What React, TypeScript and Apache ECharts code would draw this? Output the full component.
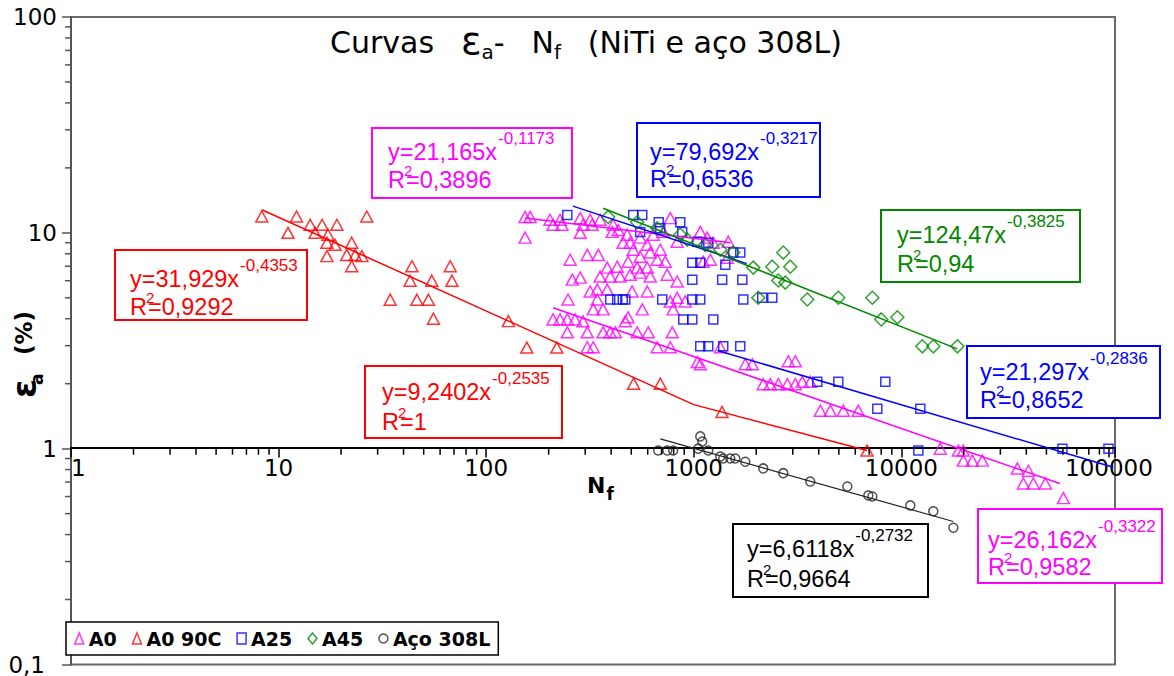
import React, { useEffect, useRef } from 'react';
import * as echarts from 'echarts';

// ---------------- data ----------------
const A0: number[][] = [
  [154, 11.85], [163, 11.85], [203, 11.5], [227, 11.5], [210, 10.9], [232, 10.9], [284, 11.7], [317, 11.5],
  [293, 10.9], [324, 10.9], [354, 11.5], [409, 10.9], [405, 10.1], [433, 10.3], [284, 10], [154, 9.5],
  [478, 9.8], [457, 9.0], [494, 9.0], [552, 9.5], [597, 8.8], [638, 9.8], [771, 11.7], [713, 10.1],
  [832, 9.1], [1075, 10.1], [1161, 9.5], [1242, 9.0], [1466, 9.1], [254, 7.5], [307, 7.9], [347, 7.9],
  [511, 8.35], [552, 7.75], [617, 8.1], [667, 7.5], [690, 8.35], [729, 7.35], [383, 6.9], [428, 6.97],
  [483, 7.35], [534, 6.9], [597, 6.9], [1111, 7.35], [1202, 7.5], [1450, 7.67], [260, 6.07], [284, 6.2],
  [354, 6.27], [396, 6.27], [442, 6.27], [494, 6.4], [552, 6.54], [617, 6.27], [745, 6.4], [832, 5.95],
  [317, 5.35], [343, 5.46], [383, 5.46], [505, 5.35], [597, 5.35], [248, 4.91], [343, 4.91], [771, 4.81],
  [832, 5.0], [910, 4.81], [328, 4.42], [366, 4.42], [565, 4.42], [796, 4.42], [483, 4.06], [210, 3.97],
  [227, 3.97], [246, 3.97], [268, 3.97], [293, 3.89], [468, 3.89], [246, 3.46], [307, 3.46], [366, 3.46],
  [396, 3.46], [419, 3.46], [534, 3.46], [604, 3.46], [788, 3.46], [307, 2.95], [328, 2.95], [667, 2.95],
  [771, 2.95], [1343, 2.95], [1040, 2.52], [1075, 2.46], [1771, 2.46], [1915, 2.46], [2853, 2.54], [3084, 2.54],
  [2162, 1.99], [2338, 1.99], [2555, 1.99], [2824, 1.99], [3084, 1.99], [3334, 2.04], [3641, 2.04], [4072, 1.5],
  [4549, 1.5], [5253, 1.5], [6202, 1.5], [15400, 1.0], [18830, 0.98], [19890, 0.98], [19890, 0.88], [21980, 0.88],
  [24550, 0.88], [36240, 0.81], [40920, 0.79], [38730, 0.69], [43270, 0.69], [49430, 0.69], [60380, 0.59],
];

const A0_90C: number[][] = [
  [8.3, 11.9], [12.2, 11.9], [11.1, 10], [14.2, 10.9], [16.2, 10.9], [19.1, 10.9], [26.6, 11.9], [15.0, 10],
  [17.3, 9.8], [17.1, 9.0], [18.7, 8.8], [22.5, 9.0], [21.3, 7.9], [23.4, 7.9], [25.2, 7.8], [17.1, 7.8],
  [22.5, 7.0], [43.9, 7.0], [67.1, 7.0], [43.0, 6.0], [54.7, 6.0], [68.4, 6.0], [34.5, 4.9], [46.4, 4.9],
  [52.7, 4.9], [55.7, 4.0], [128, 3.9], [157, 2.94], [219, 2.94], [513, 2.0], [690, 2.0], [1368, 1.48],
  [6839, 0.98],
];

const A25: number[][] = [
  [246, 12.1], [511, 12.1], [565, 12.1], [678, 11.2], [861, 11.2], [552, 10.1], [690, 10.5], [880, 10.1],
  [1040, 9.1], [1175, 9.0], [1550, 8.1], [1675, 8.1], [984, 7.27], [1075, 7.27], [1419, 7.12], [984, 6.07],
  [1371, 6.07], [1714, 6.07], [396, 4.91], [428, 4.91], [455, 4.91], [468, 4.91], [705, 4.91], [984, 4.91],
  [1075, 4.91], [1733, 4.91], [2138, 5.0], [2390, 5.0], [890, 3.97], [984, 3.97], [1242, 3.97], [1075, 2.98],
  [1175, 2.98], [1387, 2.98], [1675, 2.98], [3937, 2.04], [4970, 2.04], [8370, 2.04], [7660, 1.53], [12350, 1.53],
  [12080, 0.98], [59700, 1.0], [99500, 1.0],
];

const A45: number[][] = [
  [387, 11.85], [534, 11.2], [667, 10.5], [861, 9.8], [930, 9.3], [1136, 8.8], [1343, 8.35], [1550, 8.1],
  [2700, 8.1], [1935, 6.9], [2390, 6.97], [2917, 6.97], [2555, 6.01], [2761, 5.88], [2046, 5.0], [3524, 4.91],
  [4970, 5.0], [7250, 5.0], [8010, 3.97], [9570, 4.06], [12620, 2.98], [14260, 2.98], [18620, 2.98],
];

const ACO_308L: number[][] = [
  [674, 0.98], [745, 0.98], [796, 0.98], [1075, 1.14], [1099, 1.08], [1051, 1.0], [1175, 0.98], [1343, 0.92],
  [1387, 0.9], [1500, 0.9], [1585, 0.9], [1771, 0.87], [2162, 0.81], [2700, 0.77], [3641, 0.705], [5495, 0.668],
  [6935, 0.607], [7250, 0.6], [11050, 0.546], [14260, 0.513], [17810, 0.43],
];

// trend lines (end points)
const FIT_A0_LOW = [[154, 11.7], [1500, 9.0]];
const FIT_A0 = [[210, 4.5], [58000, 0.69]];
const FIT_A0_90C_1 = [[8.3, 12.8], [1000, 1.6]];
const FIT_A0_90C_2 = [[1000, 1.6], [6839, 0.98]];
const FIT_A25_HIGH = [[262, 13.3], [1800, 7.2]];
const FIT_A25 = [[1300, 2.85], [105000, 0.82]];
const FIT_A45 = [[366, 13.0], [18600, 2.9]];
const FIT_ACO = [[690, 1.11], [17800, 0.46]];

// axes
const X_MIN = 1;
const X_MAX = 107000;
const Y_MIN = 0.1;
const Y_MAX = 100;
const X_MINOR = [
  2, 3, 4, 5, 6, 7, 8, 9, 20, 30, 40, 50, 60, 70, 80, 90, 200, 300, 400, 500, 600, 700, 800, 900,
  2000, 3000, 4000, 5000, 6000, 7000, 8000, 9000, 20000, 30000, 40000, 50000, 60000, 70000, 80000, 90000,
];
const Y_MINOR = [0.2, 0.3, 0.4, 0.5, 0.6, 0.7, 0.8, 0.9, 2, 3, 4, 5, 6, 7, 8, 9, 20, 30, 40, 50, 60, 70, 80, 90];

const SERIES_NAMES = ['A0', 'A0 90C', 'A25', 'A45', 'Aço 308L'];

// equations: [coefficient, exponent, R²]
const EQ_TEXTS = [
  ['21,165', '-0,1173', '0,3896'],
  ['79,692', '-0,3217', '0,6536'],
  ['124,47', '-0,3825', '0,94'],
  ['31,929', '-0,4353', '0,9292'],
  ['9,2402', '-0,2535', '1'],
  ['21,297', '-0,2836', '0,8652'],
  ['6,6118', '-0,2732', '0,9664'],
  ['26,162', '-0,3322', '0,9582'],
];

// ---------------- styling / layout ----------------
const MAGENTA = '#ff00ff';
const RED = '#ff0000';
const BLUE = '#0000ff';
const GREEN = '#008800';
const BLACK = '#000000';
const EQ_COLORS = [MAGENTA, BLUE, GREEN, RED, RED, BLUE, BLACK, MAGENTA];
// [left, top, width, height, textX, baseline1, baseline2]
const EQ_LAYOUT = [
  [372, 128, 200, 70, 388, 160, 188],
  [637, 123, 183, 74, 650, 160, 187],
  [881, 210, 199, 72, 897, 243, 272],
  [115, 250, 192, 70, 130, 287, 315],
  [365, 366, 197, 72, 382, 400, 430],
  [967, 346, 193, 72, 980, 380, 408],
  [733, 524, 195, 73, 747, 557, 587],
  [978, 509, 184, 74, 988, 548, 575],
];

const LIB = '"Liberation Sans", Arial, sans-serif';
const DEJ = '"DejaVu Sans", Verdana, sans-serif';

let measureCtx: CanvasRenderingContext2D | null = null;
function tw(s: string, font: string): number {
  if (!measureCtx) measureCtx = document.createElement('canvas').getContext('2d');
  if (!measureCtx) return s.length * 10;
  measureCtx.font = font;
  return measureCtx.measureText(s).width;
}

function fontStr(size: number, family: string, weight = 'normal') {
  return `${weight} ${size}px ${family}`;
}

function txt(s: string, x: number, baseline: number, size: number, family: string, color: string, weight = 'normal') {
  return {
    type: 'text',
    z: 100,
    silent: true,
    style: {
      text: s,
      x,
      y: baseline - 0.346 * size,
      font: fontStr(size, family, weight),
      fill: color,
      textAlign: 'left',
      textVerticalAlign: 'middle',
    },
  };
}

function rtxt(s: string, x: number, y: number, size: number, color: string, weight = 'bold') {
  // text rotated 90° counter-clockwise, starting at (x, y) and running upwards
  return {
    type: 'text',
    x,
    y,
    rotation: Math.PI / 2,
    z: 100,
    silent: true,
    style: {
      text: s,
      x: 0,
      y: 0,
      font: fontStr(size, DEJ, weight),
      fill: color,
      textAlign: 'left',
      textVerticalAlign: 'middle',
    },
  };
}

function buildGraphics(): any[] {
  const els: any[] = [];
  // equation boxes
  const MAIN = 23.5;
  const SUP = 17;
  EQ_TEXTS.forEach((t, i) => {
    const [l, tp, w, h, tx, b1, b2] = EQ_LAYOUT[i];
    const c = EQ_COLORS[i];
    els.push({
      type: 'rect',
      z: 90,
      silent: true,
      shape: { x: l, y: tp, width: w, height: h },
      style: { fill: '#ffffff', stroke: c, lineWidth: 2 },
    });
    const line1 = `y=${t[0]}x`;
    els.push(txt(line1, tx, b1, MAIN, LIB, c));
    const w1 = tw(line1, fontStr(MAIN, LIB));
    els.push(txt(t[1], tx + w1 + 1, b1 - 16, SUP, LIB, c));
    const wr = tw('R', fontStr(MAIN, LIB));
    els.push(txt('R', tx, b2, MAIN, LIB, c));
    els.push(txt('2', tx + wr - 1, b2 - 12, 15, LIB, c));
    els.push(txt(`=${t[2]}`, tx + wr + 1, b2, MAIN, LIB, c));
  });

  // title: "Curvas  ε_a- N_f (NiTi e aço 308L)", spanning x 330 .. 842
  const tb = 53;
  const T = 30;
  const TITLE_LEFT = 330;
  const TITLE_RIGHT = 842;
  const head = 'Curvas';
  const paren = '(NiTi e aço 308L)';
  const mid: { s: string; size: number; dy: number }[] = [
    { s: 'ε', size: 38, dy: 1 },
    { s: 'a', size: 20, dy: 6 },
    { s: '-', size: T, dy: 0 },
    { s: 'N', size: T, dy: 0 },
    { s: 'f', size: 20, dy: 6 },
  ];
  const headW = tw(head, fontStr(T, DEJ));
  const parenW = tw(paren, fontStr(T, DEJ));
  const midW = mid.reduce((acc, p) => acc + tw(p.s, fontStr(p.size, DEJ)), 0);
  const slack = Math.max(30, TITLE_RIGHT - TITLE_LEFT - headW - parenW - midW);
  const gap = slack / 3;
  els.push(txt(head, TITLE_LEFT, tb, T, DEJ, '#000'));
  let x = TITLE_LEFT + headW + gap;
  mid.forEach((p, i) => {
    els.push(txt(p.s, x, tb + p.dy, p.size, DEJ, '#000'));
    x += tw(p.s, fontStr(p.size, DEJ)) + (i === 2 ? gap : 0);
  });
  els.push(txt(paren, x + gap, tb, T, DEJ, '#000'));

  // x axis name N_f
  const nW = tw('N', fontStr(22, DEJ, 'bold'));
  els.push(txt('N', 587, 493, 22, DEJ, '#000', 'bold'));
  els.push(txt('f', 587 + nW + 1, 500, 17, DEJ, '#000', 'bold'));

  // y axis name  ε_a (%)  rotated
  const eW = tw('ε', fontStr(34, DEJ, 'bold'));
  els.push(rtxt('ε', 24, 398, 34, '#000'));
  els.push(rtxt('a', 37, 398 - eW + 6, 17, '#000'));
  els.push(rtxt('(%)', 24, 355, 23, '#000'));
  return els;
}

function scatter(name: string, data: number[][], symbol: string, size: number | number[], color: string) {
  return {
    name,
    type: 'scatter',
    data,
    symbol,
    symbolSize: size,
    itemStyle: { color: 'rgba(255,255,255,0)', borderColor: color, borderWidth: 1.5 },
    silent: true,
    z: 3,
  };
}

function fit(name: string, data: number[][], color: string, width = 1.5) {
  return {
    name,
    type: 'line',
    data,
    symbol: 'none',
    showSymbol: false,
    lineStyle: { color, width },
    silent: true,
    z: 4,
  };
}

function buildOption(): any {
  const isDecade = (v: number) => {
    const l = Math.log10(v);
    return Math.abs(l - Math.round(l)) < 1e-6;
  };
  return {
    animation: false,
    backgroundColor: '#ffffff',
    grid: {
      left: 71,
      right: 59,
      top: 17,
      bottom: 9,
      show: true,
      borderColor: '#6a6a6a',
      borderWidth: 2,
      backgroundColor: 'rgba(0,0,0,0)',
    },
    xAxis: {
      type: 'log',
      logBase: 10,
      min: X_MIN,
      max: X_MAX,
      position: 'bottom',
      offset: -217,
      axisLine: { show: true, onZero: false, lineStyle: { color: '#000', width: 2 } },
      axisTick: { show: true, length: 10, lineStyle: { color: '#000', width: 1.5 } },
      axisLabel: {
        fontFamily: DEJ,
        fontSize: 23,
        color: '#000',
        margin: 9,
        alignMinLabel: 'left',
        formatter: (v: number) => (isDecade(v) ? String(Math.round(v)) : ''),
      },
      splitLine: { show: false },
      minorTick: { show: false },
    },
    yAxis: {
      type: 'log',
      logBase: 10,
      min: Y_MIN,
      max: Y_MAX,
      axisLine: { show: true, onZero: false, lineStyle: { color: '#555', width: 2 } },
      axisTick: { show: true, length: 9, lineStyle: { color: '#555', width: 1.5 } },
      axisLabel: {
        fontFamily: DEJ,
        fontSize: 23,
        color: '#000',
        margin: 14,
        formatter: (v: number) => {
          const l = Math.round(Math.log10(v));
          if (l < 0) return '{s|0,1}';
          return String(Math.round(Math.pow(10, l)));
        },
        rich: { s: { fontFamily: DEJ, fontSize: 23, color: '#000', padding: [0, 12, 0, 0] } },
      },
      splitLine: { show: false },
      minorTick: { show: false },
    },
    legend: {
      data: SERIES_NAMES,
      left: 66,
      top: 622,
      orient: 'horizontal',
      padding: [7, 8, 7, 8],
      itemGap: 15,
      itemWidth: 9,
      itemHeight: 11,
      borderColor: '#000',
      borderWidth: 1.5,
      backgroundColor: '#ffffff',
      textStyle: { fontFamily: DEJ, fontWeight: 'bold', fontSize: 19, color: '#000' },
      itemStyle: { borderWidth: 1.5 },
      selectedMode: false,
      z: 10,
    },
    series: [
      fit('fitA0low', FIT_A0_LOW, MAGENTA),
      fit('fitA0', FIT_A0, MAGENTA),
      fit('fit90c1', FIT_A0_90C_1, RED),
      fit('fit90c2', FIT_A0_90C_2, RED),
      fit('fitA25high', FIT_A25_HIGH, BLUE),
      fit('fitA25', FIT_A25, BLUE),
      fit('fitA45', FIT_A45, GREEN),
      fit('fitAco', FIT_ACO, '#222', 1.2),
      scatter(SERIES_NAMES[0], A0, 'triangle', [12, 11], MAGENTA),
      scatter(SERIES_NAMES[1], A0_90C, 'triangle', [12, 11], RED),
      scatter(SERIES_NAMES[2], A25, 'rect', [9, 9], BLUE),
      scatter(SERIES_NAMES[3], A45, 'diamond', [13, 13], GREEN),
      scatter(SERIES_NAMES[4], ACO_308L, 'circle', 9, '#222'),
      {
        name: 'xMinorTicks',
        type: 'custom',
        data: X_MINOR.map((v) => [v, 1]),
        clip: false,
        silent: true,
        z: 6,
        renderItem: (_p: any, api: any) => {
          const c = api.coord([api.value(0), api.value(1)]);
          return { type: 'line', shape: { x1: c[0], y1: c[1], x2: c[0], y2: c[1] + 6 }, style: { stroke: '#000', lineWidth: 1.5 } };
        },
      },
      {
        name: 'yMinorTicks',
        type: 'custom',
        data: Y_MINOR.map((v) => [X_MIN, v]),
        clip: false,
        silent: true,
        z: 6,
        renderItem: (_p: any, api: any) => {
          const c = api.coord([api.value(0), api.value(1)]);
          return { type: 'line', shape: { x1: c[0] - 6, y1: c[1], x2: c[0], y2: c[1] }, style: { stroke: '#555', lineWidth: 1.5 } };
        },
      },
    ],
    graphic: buildGraphics(),
  };
}

export default function App() {
  const ref = useRef<HTMLDivElement>(null);
  useEffect(() => {
    document.body.style.margin = '0';
    const chart = echarts.init(ref.current as HTMLDivElement, undefined, { renderer: 'svg' });
    chart.setOption(buildOption());
    return () => chart.dispose();
  }, []);
  return <div ref={ref} style={{ position: 'absolute', left: 0, top: 0, width: 1174, height: 676 }} />;
}
